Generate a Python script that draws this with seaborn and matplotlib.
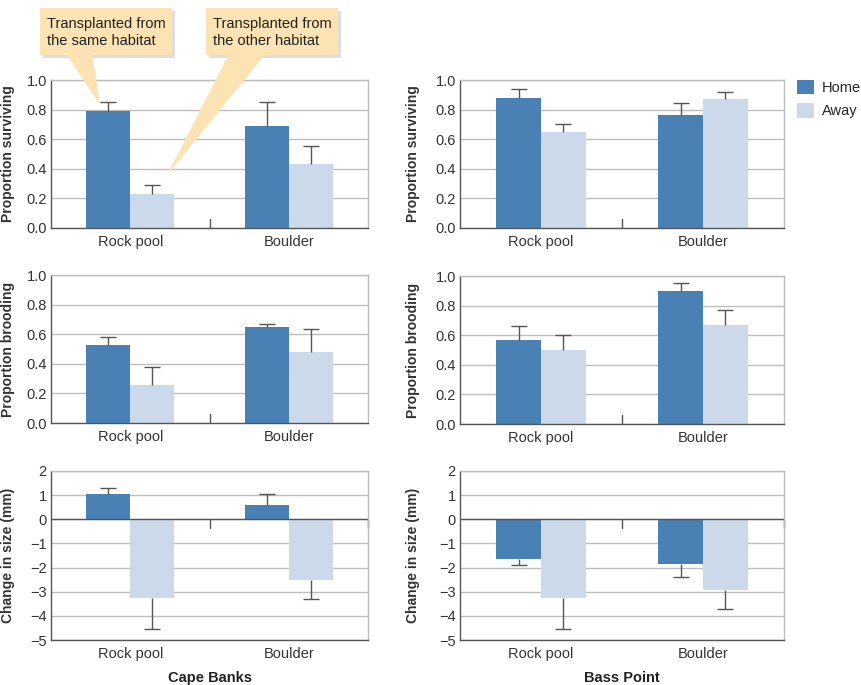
import matplotlib
matplotlib.use("Agg")
import matplotlib.pyplot as plt
from matplotlib.patches import Rectangle, Polygon
import seaborn as sns
import pandas as pd
import numpy as np

sns.set_style("white")
plt.rcParams['font.family'] = ['Liberation Sans', 'DejaVu Sans']

HABITATS = ["Rock pool", "Boulder"]
ORIGINS = ["Home", "Away"]
SITES = ["Cape Banks", "Bass Point"]

# values per habitat (Rock pool, Boulder), one list per origin
CB_SURV_HOME = [0.79, 0.69]
CB_SURV_AWAY = [0.23, 0.43]
CB_SURV_HOME_ERR = [0.06, 0.16]
CB_SURV_AWAY_ERR = [0.06, 0.125]

BP_SURV_HOME = [0.88, 0.765]
BP_SURV_AWAY = [0.65, 0.875]
BP_SURV_HOME_ERR = [0.06, 0.08]
BP_SURV_AWAY_ERR = [0.055, 0.045]

CB_BROOD_HOME = [0.525, 0.65]
CB_BROOD_AWAY = [0.258, 0.477]
CB_BROOD_HOME_ERR = [0.055, 0.02]
CB_BROOD_AWAY_ERR = [0.12, 0.16]

BP_BROOD_HOME = [0.57, 0.897]
BP_BROOD_AWAY = [0.50, 0.667]
BP_BROOD_HOME_ERR = [0.095, 0.058]
BP_BROOD_AWAY_ERR = [0.10, 0.10]

CB_SIZE_HOME = [1.05, 0.61]
CB_SIZE_AWAY = [-3.25, -2.53]
CB_SIZE_HOME_ERR = [0.26, 0.45]
CB_SIZE_AWAY_ERR = [1.29, 0.77]

BP_SIZE_HOME = [-1.63, -1.86]
BP_SIZE_AWAY = [-3.26, -2.91]
BP_SIZE_HOME_ERR = [0.27, 0.54]
BP_SIZE_AWAY_ERR = [1.30, 0.79]

PROP_TICKS = [0.0, 0.2, 0.4, 0.6, 0.8, 1.0]
SIZE_TICKS = [-5, -4, -3, -2, -1, 0, 1, 2]

HOME_COLOR = '#4a81b5'
AWAY_COLOR = '#cbd9eb'
DARK = '#555555'
GRID = '#bdbdbd'
BOX_COLOR = '#fce3b3'

W, H = 861, 685


def frame(df_home, df_away, e_home, e_away):
    rows = []
    for i, hab in enumerate(HABITATS):
        rows.append(dict(habitat=hab, origin="Home", value=df_home[i], err=e_home[i]))
        rows.append(dict(habitat=hab, origin="Away", value=df_away[i], err=e_away[i]))
    return pd.DataFrame(rows)


def px_rect(left, top, right, bottom):
    return [left / W, 1 - bottom / H, (right - left) / W, (bottom - top) / H]


fig = plt.figure(figsize=(W / 100, H / 100), dpi=100)

panels = [
    # (data, ylabel, ticks, axes rect in px)
    (frame(CB_SURV_HOME, CB_SURV_AWAY, CB_SURV_HOME_ERR, CB_SURV_AWAY_ERR),
     "Proportion surviving", PROP_TICKS, px_rect(51, 80, 368, 228)),
    (frame(BP_SURV_HOME, BP_SURV_AWAY, BP_SURV_HOME_ERR, BP_SURV_AWAY_ERR),
     "Proportion surviving", PROP_TICKS, px_rect(460, 80, 784, 228)),
    (frame(CB_BROOD_HOME, CB_BROOD_AWAY, CB_BROOD_HOME_ERR, CB_BROOD_AWAY_ERR),
     "Proportion brooding", PROP_TICKS, px_rect(51, 275, 368, 423)),
    (frame(BP_BROOD_HOME, BP_BROOD_AWAY, BP_BROOD_HOME_ERR, BP_BROOD_AWAY_ERR),
     "Proportion brooding", PROP_TICKS, px_rect(460, 276, 784, 424)),
    (frame(CB_SIZE_HOME, CB_SIZE_AWAY, CB_SIZE_HOME_ERR, CB_SIZE_AWAY_ERR),
     "Change in size (mm)", SIZE_TICKS, px_rect(51, 471, 368, 640)),
    (frame(BP_SIZE_HOME, BP_SIZE_AWAY, BP_SIZE_HOME_ERR, BP_SIZE_AWAY_ERR),
     "Change in size (mm)", SIZE_TICKS, px_rect(460, 471, 784, 640)),
]

axes = []
for k, (df, ylabel, ticks, rect) in enumerate(panels):
    ax = fig.add_axes(rect)
    axes.append(ax)
    sns.barplot(data=df, x="habitat", y="value", hue="origin",
                order=HABITATS, hue_order=ORIGINS,
                palette=[HOME_COLOR, AWAY_COLOR], errorbar=None,
                width=0.555, gap=0, linewidth=0, saturation=1,
                legend=(k == 1), ax=ax)

    # one-sided error bars, away from zero
    lookup = {(r.habitat, r.origin): r.err for r in df.itertuples()}
    for bar in list(ax.patches):
        if not isinstance(bar, Rectangle) or bar.get_width() <= 0 or bar.get_height() == 0:
            continue
        x = bar.get_x() + bar.get_width() / 2
        hab_i = int(round(x))
        origin = "Home" if x < hab_i else "Away"
        e = lookup[(HABITATS[hab_i], origin)]
        v = bar.get_y() + bar.get_height()
        yerr = [[0], [e]] if v >= 0 else [[e], [0]]
        _, caps, _ = ax.errorbar([x], [v], yerr=yerr, fmt='none', ecolor=DARK,
                                 elinewidth=1, capsize=5.5, capthick=1, zorder=3)
        for c in caps:
            if np.isclose(c.get_ydata()[0], v):
                c.remove()

    ax.set_xlim(-0.5, 1.5)
    ax.set_ylim(ticks[0], ticks[-1])
    ax.set_yticks(ticks)
    if ticks is PROP_TICKS:
        ax.set_yticklabels([f"{t:.1f}" for t in ticks])
    else:
        ax.set_yticklabels([f"{t}".replace("-", "\u2212") for t in ticks])
    ax.yaxis.grid(True, color=GRID, lw=1)
    ax.set_axisbelow(True)

    for side in ("left", "bottom"):
        ax.spines[side].set_color(DARK)
        ax.spines[side].set_linewidth(1)
    for side in ("right", "top"):
        ax.spines[side].set_color(GRID)
        ax.spines[side].set_linewidth(1)

    ax.tick_params(axis='y', direction='in', length=6, color=DARK, pad=3,
                   labelsize=10.5, labelcolor='#333333')
    ax.tick_params(axis='x', length=0, pad=5, labelsize=10.5, labelcolor='#333333')
    ax.set_ylabel(ylabel, fontsize=10, fontweight='bold', color='#333333')
    ax.yaxis.set_label_coords(-0.112 if k % 2 == 0 else -0.122, 0.5)
    ax.set_xlabel("")

    # separator tick between habitats
    if ticks is PROP_TICKS:
        ax.axvline(0.5, ymin=0, ymax=9 / 148, color=DARK, lw=1)
    else:
        ax.axhline(0, color=DARK, lw=1, zorder=2)
        z = 5 / 7
        ax.axvline(0.5, ymin=z - 9 / 169, ymax=z, color=DARK, lw=1)
        ax.axvline(1.5, ymin=z - 9 / 169, ymax=z, color=DARK, lw=1, clip_on=False)
        ax.set_xlabel(SITES[k % 2], fontsize=10.5, fontweight='bold',
                      color='#222222', labelpad=7)

sns.move_legend(axes[1], "upper left", bbox_to_anchor=(1.04, 1.0), frameon=False,
                title=None, handlelength=1.15, handleheight=1.15, handletextpad=0.55,
                labelspacing=0.55, borderaxespad=0, borderpad=0, fontsize=10.5)

# callouts
ax0 = axes[0]
to_fig = ax0.transData + fig.transFigure.inverted()


def fpx(x, y):
    return (x / W, 1 - y / H)


callouts = [
    ((40, 8, 172, 55), (65, 92), (-0.19, 0.83), "Transplanted from\nthe same habitat"),
    ((206, 8, 338, 55), (230, 267), (0.233, 0.358), "Transplanted from\nthe other habitat"),
]
for (l, t, r, b), (b0, b1), tip, label in callouts:
    tx, ty = to_fig.transform(tip)
    shadow = Rectangle(fpx(l + 3, b + 3), (r - l) / W, (b - t) / H,
                       transform=fig.transFigure, color='#c8c8c8', alpha=0.6, lw=0, zorder=5)
    wedge = Polygon([fpx(b0, b - 3), fpx(b1, b - 3), (tx, ty)], closed=True,
                    transform=fig.transFigure, facecolor=BOX_COLOR, lw=0, zorder=6)
    box = Rectangle(fpx(l, b), (r - l) / W, (b - t) / H, transform=fig.transFigure,
                    facecolor=BOX_COLOR, lw=0, zorder=7)
    for art in (shadow, wedge, box):
        fig.add_artist(art)
    fig.text((l + 7) / W, 1 - ((t + b) / 2 + 1) / H, label, fontsize=10.5,
             color='#222222', ha='left', va='center', linespacing=1.3, zorder=8)

fig.savefig("out.png", dpi=100)
